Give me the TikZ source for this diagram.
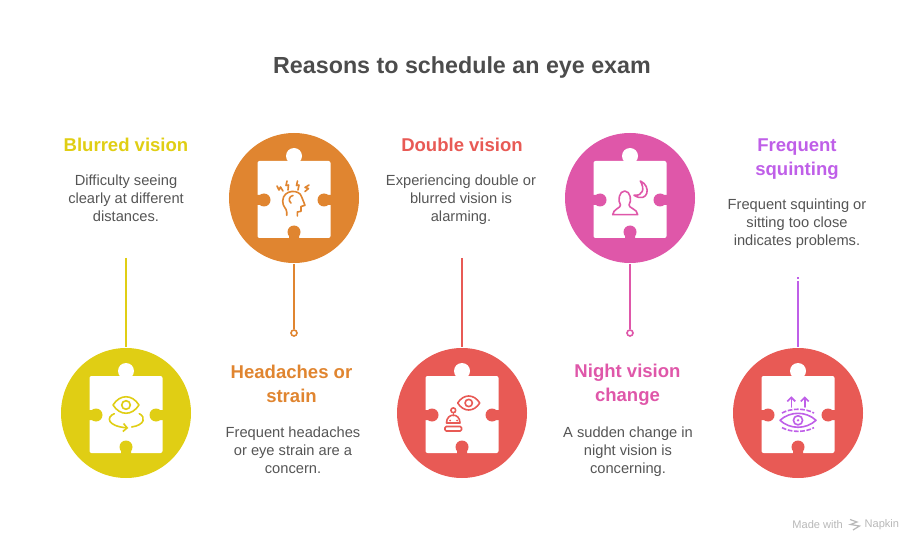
\documentclass[tikz,border=0pt]{standalone}
\usepackage{fontspec}
\usetikzlibrary{arrows.meta}
\setmainfont{Liberation Sans}
\definecolor{yel}{HTML}{E0CE14}
\definecolor{ora}{HTML}{E08530}
\definecolor{rd}{HTML}{E85A55}
\definecolor{pnk}{HTML}{DF57A9}
\definecolor{pur}{HTML}{BF5FE8}
\definecolor{ink}{HTML}{555555}

\begin{document}
\begin{tikzpicture}[x=0.75pt,y=-0.75pt,>={Straight Barb[length=3pt,width=6pt]},node distance=252pt,line width=1.4pt,
    main node/.style={circle,minimum size=97.5pt,inner sep=0pt},
    head node/.style={font=\fontsize{13.9}{18}\selectfont\bfseries,align=center,inner sep=0pt},
    text node/.style={font=\fontsize{11}{13.5}\selectfont,text=ink,align=center,inner sep=0pt},
    dot node/.style={circle,draw,fill=white,minimum size=4.5pt,inner sep=0pt,line width=1.2pt},
    icon/.style={line width=1.2pt,line join=round,line cap=round},
    pics/puzzle/.style={code={
        \fill[white,rounded corners=1.5pt] (-36.5,-37) rectangle (36.5,40);
        \fill[white] (0,-42) circle[radius=8];
        \fill[#1] (-30,2) circle[radius=6.5] (30,2) circle[radius=6.5] (0,34) circle[radius=6.5];
        \fill[#1] (-37,-3) rectangle (-30,7) (37,-3) rectangle (30,7) (-5,41) rectangle (5,34);
    }},
    pics/eye/.style={code={
        \draw[icon,#1] (-13,0) .. controls (-6,-11) and (6,-11) .. (13,0) .. controls (6,11) and (-6,11) .. (-13,0);
        \draw[icon,#1] (0,0) circle[radius=4.3];
    }}]
    \path[use as bounding box] (0,0) rectangle (924,552);

    \node[main node] (c1) [fill=yel] at (126,413) {};
    \node[main node] (c3) [fill=rd,right of=c1] {};
    \node[main node] (c5) [fill=rd,right of=c3] {};
    \node[main node] (c2) [fill=ora] at (294,198) {};
    \node[main node] (c4) [fill=pnk,right of=c2] {};

    \node[font=\fontsize{17.45}{22}\selectfont\bfseries,text=ink!90!black,inner sep=0pt] (title) at (462,67.5) {Reasons to schedule an eye exam};

    \node[head node,text=yel] (h1) at (126,145) {Blurred vision};
    \node[text node] (t1) at (126,198) {Difficulty seeing\\clearly at different\\distances.};
    \node[head node,text=ora] (h2) at (291.5,384) {Headaches or\\strain};
    \node[text node] (t2) at (293,450) {Frequent headaches\\or eye strain are a\\concern.};
    \node[head node,text=rd] (h3) at (462,145) {Double vision};
    \node[text node] (t3) at (461,200) {Experiencing double or\\blurred vision is\\alarming.};
    \node[head node,text=pnk] (h4) at (627.5,385) {Night vision\\change};
    \node[text node] (t4) at (628,452) {A sudden change in\\night vision is\\concerning.};
    \node[head node,text=pur] (h5) at (797,159) {Frequent\\squinting};
    \node[text node] (t5) at (797,224) {Frequent squinting or\\sitting too close\\indicates problems.};

    % connectors
    \coordinate (e1) at (126,258);
    \coordinate (e3) at (462,258);
    \coordinate (e5) at (798,281);
    \coordinate (e5a) at (798,277.5);
    \coordinate (e5b) at (798,279.5);
    \node[dot node,draw=ora] (d2) at (294,333) {};
    \node[dot node,draw=pnk] (d4) at (630,333) {};
    \path
        (e1) edge[yel] (c1)
        (e3) edge[rd] (c3)
        (e5) edge[pur] (c5)
        (e5a) edge[pur] (e5b)
        (c2) edge[ora] (d2)
        (c4) edge[pnk] (d4)
    ;

    % puzzle pieces
    \pic at (c1) {puzzle=yel};
    \pic at (c2) {puzzle=ora};
    \pic at (c3) {puzzle=rd};
    \pic at (c4) {puzzle=pnk};
    \pic at (c5) {puzzle=rd};

    % blurred vision icon
    \begin{scope}[shift={(c1)}]
        \pic at (0,-8) {eye=yel};
        \draw[icon,yel,->] (-11.7,0.7) .. controls (-20,4) and (-19,13) .. (2.3,15);
        \draw[icon,yel] (13.3,0.7) .. controls (20,4) and (19,12) .. (5.7,14);
    \end{scope}

    % headache icon
    \begin{scope}[shift={(c2)},icon,ora]
        \draw (-7.3,17.3) -- (-7.3,14) .. controls (-7.3,10) and (-11.5,9) .. (-11.3,3) .. controls (-11,-9) and (6,-9) .. (7.7,-1) -- (11,7.3) -- (7,8.5) -- (7,13.3) -- (3.3,14) -- (3.3,18);
        \draw (-3,5) .. controls (-6,3) and (-5,-2) .. (-1,-2.5);
        \draw (-17,-12) -- (-15,-8) -- (-13.5,-11) -- (-11,-7);
        \draw (-7,-17) -- (-8,-12.5) -- (-5.5,-13) -- (-6,-8);
        \draw (3.5,-17) -- (2.5,-12.5) -- (5,-13) -- (4,-8);
        \draw (15,-13) -- (11,-10.5) -- (14.5,-9.5) -- (11,-6.5);
    \end{scope}

    % double vision icon
    \begin{scope}[shift={(c3)},icon,rd]
        \pic[scale=0.85] at (6.7,-10) {eye=rd};
        \draw (-8.7,-2.7) circle[radius=2.4];
        \draw (-8.7,-0.3) -- (-8.7,2.7);
        \draw (-15.5,10) .. controls (-15.5,-0.5) and (-2,-0.5) .. (-2,10) -- cycle;
        \draw[rounded corners=1pt] (-17,13.5) rectangle (-0.5,18);
        \fill (-12,7.5) circle[radius=1] (-5,7.5) circle[radius=1];
    \end{scope}

    % night vision icon
    \begin{scope}[shift={(c4)},icon,pnk]
        \draw (-9.5,7) .. controls (-9,10) and (-17,11) .. (-17.3,16.7) -- (7.7,16.7) .. controls (7.5,11) and (-1.5,10) .. (-1,7) .. controls (2,3) and (0.5,-7) .. (-5.3,-7) .. controls (-11,-7) and (-12.5,3) .. (-9.5,7);
        \draw (10.3,-17) .. controls (22,-12) and (18,6) .. (4,-2.7) .. controls (13,-2) and (15,-9) .. (10.3,-17);
    \end{scope}

    % squinting icon
    \begin{scope}[shift={(c5)},icon,pur]
        \draw (-18,7.3) .. controls (-8,-2) and (8,-2) .. (18,7.3) .. controls (8,16.6) and (-8,16.6) .. (-18,7.3);
        \draw (0,7.3) circle[radius=4.6];
        \fill (0,7.3) circle[radius=1.3];
        \draw[line cap=butt,dash pattern=on 3.5pt off 1.2pt] (-16,0) .. controls (-7,-5) and (7,-5) .. (16,0);
        \draw[line cap=butt,dash pattern=on 3.5pt off 1.2pt] (-16,14.6) .. controls (-7,19.6) and (7,19.6) .. (16,14.6);
        \draw[->] (-6.7,-6) -- (-6.7,-16.7);
        \draw[->] (6.7,-6) -- (6.7,-16.7);
    \end{scope}

    % footer
    \node[font=\fontsize{8.3}{10}\selectfont,text=black!28,anchor=west,inner sep=0pt] (made) at (791.5,524.5) {Made with};
    \node[font=\fontsize{8.3}{10}\selectfont,text=black!28,anchor=east,inner sep=0pt] (nap) at (900,525) {Napkin};
    \draw[black!28,line width=0.9pt] (850,519.5) -- (857,522) -- (850.5,524.5) -- (859.5,526) -- (853,530);
\end{tikzpicture}
\end{document}
